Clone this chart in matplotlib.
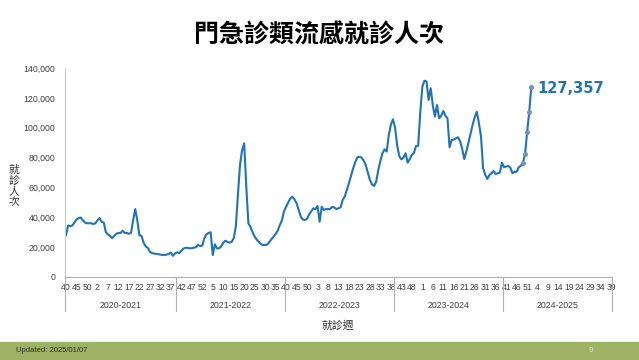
import numpy as np
import matplotlib
matplotlib.use("Agg")
import matplotlib.pyplot as plt
import matplotlib.transforms as mtransforms
from matplotlib.patches import Rectangle

plt.rcParams['font.family'] = ['Liberation Sans', 'Noto Sans CJK TC', 'DejaVu Sans']

# seasons and their epidemiological weeks (2020 has 53 ISO weeks)
seasons = ['2020-2021', '2021-2022', '2022-2023', '2023-2024', '2024-2025']
season_weeks = [
    list(range(40, 54)) + list(range(1, 40)),
    list(range(40, 53)) + list(range(1, 40)),
    list(range(40, 53)) + list(range(1, 40)),
    list(range(40, 53)) + list(range(1, 40)),
    list(range(40, 53)) + list(range(1, 40)),
]

# weekly outpatient/ER ILI visits
visits_2020 = [28000, 34500, 34000, 34500, 36500, 38500, 39500, 39800, 38000, 36500,
               36000, 36000, 36000, 35500, 36000, 38000, 39500, 37000, 36500, 30000,
               28500, 27500, 26000, 27500, 29000, 29500, 29500, 31000, 29500, 29500,
               29000, 29500, 38000, 45500, 38000, 28000, 27500, 23000, 20500, 19500,
               17000, 16000, 15700, 15500, 15300, 15000, 14800, 14700, 15000, 15500,
               16300, 14200, 15800]
visits_2021 = [16500, 16000, 17500, 19000, 19600, 19500, 19200, 19300, 19600, 20000,
               21400, 20800, 21000, 25900, 28600, 29500, 30000, 14700, 21900, 19200,
               19200, 20500, 23000, 24300, 23500, 23000, 23500, 26000, 33700, 55000,
               75000, 85000, 89600, 60500, 36000, 33500, 30000, 27000, 25000, 23500,
               22000, 21400, 21500, 21700, 23500, 25300, 27000, 28800, 31000, 34800,
               38000, 44000]
visits_2022 = [47000, 50000, 52500, 53800, 52000, 49400, 45000, 40400, 38500, 38200,
               39000, 42000, 44000, 46000, 45500, 47600, 37000, 47100, 44900, 45500,
               45500, 45500, 47000, 46500, 45500, 46000, 46700, 51600, 54000, 58300,
               63000, 68000, 72800, 77000, 80200, 80500, 80000, 78000, 75000, 70000,
               65000, 62000, 61000, 64000, 71700, 78000, 82900, 85500, 84000, 95100,
               102000, 105600]
visits_2023 = [100000, 88000, 81000, 78800, 80000, 82900, 76600, 79000, 81700, 83300,
               87800, 87800, 110000, 127500, 131500, 131000, 118600, 126400, 115000, 107400,
               115200, 106300, 108000, 111200, 108000, 106300, 86900, 91800, 92000, 92900,
               93600, 91000, 86000, 79000, 84000, 90000, 96000, 102000, 107000, 110700,
               103000, 94000, 72800, 68500, 65700, 68300, 69500, 71000, 69000, 69500,
               70000, 76600]
visits_2024 = [73500, 74000, 74400, 73200, 69500, 70500, 70500, 73500, 74500, 76600,
               82200, 96900, 110700, 127357]

n_marked = 5  # latest (provisional) weeks drawn with markers

visits = np.array(visits_2020 + visits_2021 + visits_2022 + visits_2023 + visits_2024, dtype=float)
all_weeks = [w for ws in season_weeks for w in ws]
n_cat = len(all_weeks)
x = np.arange(len(visits))

fig = plt.figure(figsize=(6.39, 3.6), dpi=100)
ax = fig.add_axes([65 / 639, 1 - 277 / 360, (612 - 65) / 639, (277 - 68) / 360])

line_color = '#2074b6'
ax.plot(x, visits, color=line_color, lw=1.5, solid_joinstyle='round')
ax.plot(x[-n_marked:], visits[-n_marked:], ls='none', marker='o', ms=2.6,
        color='#6f95c4', mec='#6f95c4')

ax.set_xlim(-0.5, n_cat - 0.5)
ax.set_ylim(0, 140000)
ax.set_yticks(np.arange(0, 140001, 20000))
ax.set_yticklabels([f'{v:,}' for v in range(0, 140001, 20000)])
ax.tick_params(axis='y', length=0, pad=7, labelsize=6.3, labelcolor='#404040')

tick_pos = np.arange(0, n_cat, 5)
ax.set_xticks(tick_pos)
ax.set_xticklabels([str(all_weeks[i]) for i in tick_pos])
ax.tick_params(axis='x', length=0, pad=4.5, labelsize=6.2, labelcolor='#404040')

for s in ['top', 'right']:
    ax.spines[s].set_visible(False)
ax.spines['left'].set_color('#c8c8c8')
ax.spines['bottom'].set_color('#b0b0b0')

# season separators and labels under the axis
trans = mtransforms.blended_transform_factory(ax.transData, ax.transAxes)
bounds = np.cumsum([0] + [len(w) for w in season_weeks]) - 0.5
for b in bounds:
    ax.plot([b, b], [0, -0.165], transform=trans, color='#b0b0b0', lw=0.8, clip_on=False)
for i, name in enumerate(seasons):
    ax.text((bounds[i] + bounds[i + 1]) / 2, -0.134, name, transform=trans,
            ha='center', va='center', fontsize=6.3, color='#404040')

# annotation on the latest value
ax.text(x[-1] + 3, visits[-1] - 800, f'{int(visits[-1]):,}', color=line_color,
        fontsize=10.5, fontweight='bold', family='DejaVu Sans', ha='left', va='center')

fig.text(0.5, 1 - 35 / 360, '門急診類流感就診人次', ha='center', va='center',
         fontsize=18, fontweight='bold', family=['Noto Sans CJK TC', 'DejaVu Sans'])
fig.text(14 / 639, 1 - 186 / 360, '就\n診\n人\n次', ha='center', va='center',
         fontsize=7.8, linespacing=1.05, color='#333333', fontweight='medium',
         family=['Noto Sans CJK TC', 'DejaVu Sans'])
fig.text(338 / 639, 1 - 325 / 360, '就診週', ha='center', va='center',
         fontsize=7.8, color='#333333', fontweight='medium',
         family=['Noto Sans CJK TC', 'DejaVu Sans'])

# footer band
fig.patches.append(Rectangle((0, 0), 1, 18 / 360, transform=fig.transFigure,
                             color='#9db264', zorder=0))
fig.text(16 / 639, 9 / 360, 'Updated: 2025/01/07', ha='left', va='center',
         fontsize=5.5, color='#2b2b2b')
fig.text(591 / 639, 9 / 360, '9', ha='center', va='center', fontsize=6, color='#dfe6c8')

fig.savefig('out.png', dpi=100)
